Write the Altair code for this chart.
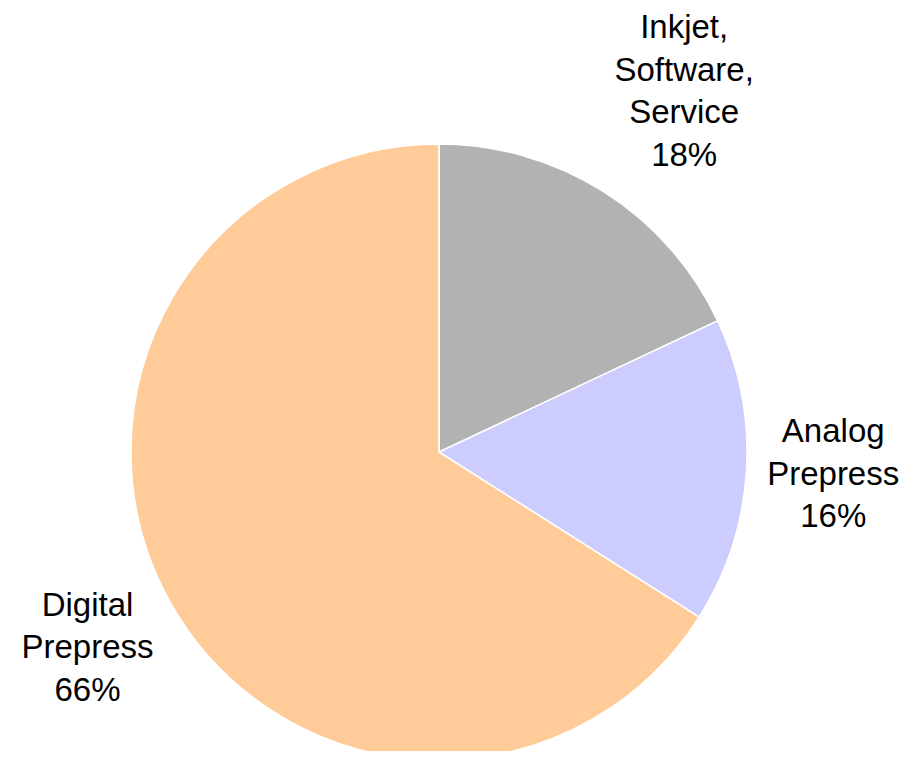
import altair as alt
import pandas as pd

categories = ["Inkjet,\nSoftware,\nService", "Analog\nPrepress", "Digital\nPrepress"]
shares = [18, 16, 66]
colors = ["#b2b2b2", "#ccccff", "#ffcc99"]

df = pd.DataFrame({
    "category": categories,
    "share": shares,
    "order": list(range(len(categories))),
})
df["label"] = [f"{c}\n{s}%" for c, s in zip(categories, shares)]

cx, cy = 431, 444

base = alt.Chart(df).encode(
    theta=alt.Theta("share:Q", stack=True),
    order=alt.Order("order:Q"),
)

pie = base.mark_arc(outerRadius=308, stroke="white", strokeWidth=1.5).encode(
    color=alt.Color("category:N", scale=alt.Scale(domain=categories, range=colors), legend=None),
    x=alt.value(cx),
    y=alt.value(cy),
)

text_style = dict(font="Liberation Sans", fontSize=33, lineHeight=42.5, align="center",
                  baseline="middle", color="black", lineBreak="\n")

# label placement per slice: (slice index, radius, dx, dy)
placements = [(0, 437, 11, -55), (1, 400, -5, -45), (2, 400, -1, -39)]

label_layers = []
for idx, rad, ddx, ddy in placements:
    label_layers.append(
        base.mark_text(radius=rad, dx=ddx, dy=ddy, **text_style).encode(
            text=alt.condition(f"datum.order == {idx}", "label:N", alt.value("")),
            x=alt.value(cx),
            y=alt.value(cy),
        )
    )

chart = alt.layer(pie, *label_layers).properties(
    width=895, height=743, padding=0,
    autosize=alt.AutoSizeParams(type="none"),
).configure_view(stroke=None)

chart.save("out.html", embed_options={"renderer": "svg", "actions": False})
